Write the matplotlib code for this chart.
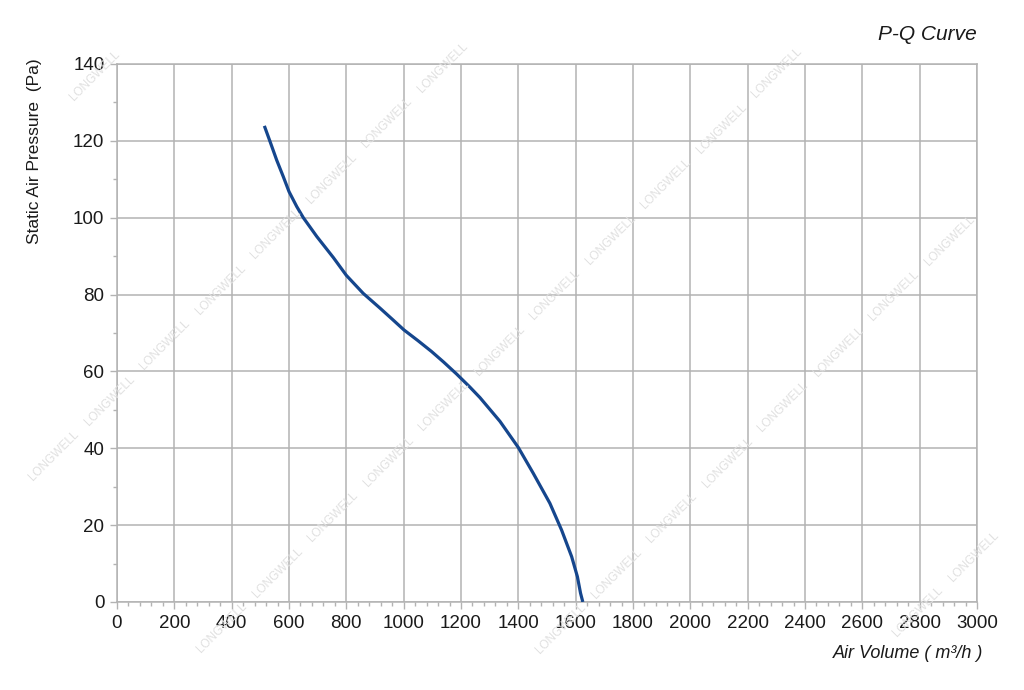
import matplotlib
matplotlib.use('Agg')
import matplotlib.pyplot as plt
from matplotlib.ticker import MultipleLocator

# P-Q curve
air_volume = [514, 534, 557, 580, 600, 627, 650, 697, 755, 800, 859, 917, 960, 1001,
              1050, 1097, 1140, 1185, 1230, 1266, 1336, 1400, 1452, 1510, 1551,
              1586, 1606, 1617, 1625]
pressure = [123.9, 119.8, 115.0, 110.7, 106.8, 102.9, 100.0, 95.1, 89.6, 85.0, 80.3,
            76.5, 73.6, 70.8, 68.0, 65.2, 62.4, 59.3, 56.0, 53.2, 47.0, 40.2, 33.5,
            25.7, 18.7, 11.8, 6.6, 2.3, 0.0]

x_ticks = list(range(0, 3001, 200))
y_ticks = list(range(0, 141, 20))

plt.rcParams['font.family'] = ['Liberation Sans', 'DejaVu Sans']

fig = plt.figure(figsize=(10.24, 6.9), dpi=100)
ax = fig.add_axes([117/1024, 1 - 602/690, 860/1024, 538/690])

grid_col = '#b3b3b3'
ax.set_xlim(0, 3000)
ax.set_ylim(0, 140)
ax.set_xticks(x_ticks)
ax.set_yticks(y_ticks)
ax.xaxis.set_minor_locator(MultipleLocator(40))
ax.yaxis.set_minor_locator(MultipleLocator(10))
ax.grid(True, which='major', color=grid_col, linewidth=1.1)
ax.set_axisbelow(True)
for s in ax.spines.values():
    s.set_color(grid_col)
    s.set_linewidth(1.1)
ax.tick_params(which='major', length=5, width=1, color=grid_col,
               labelsize=13.5, labelcolor='#1a1a1a', pad=4)
ax.tick_params(which='minor', length=3, width=1, color=grid_col)

ax.plot(air_volume, pressure, color='#15468d', linewidth=2.3, zorder=3,
        solid_capstyle='butt', solid_joinstyle='round')

# faint watermark, kept clear of the figure edges
for c, phase in [(170, 39), (510, 54), (850, 0), (1190, 6), (1530, 30)]:
    k = 0
    while True:
        x = phase + k * 55.5
        y = c - x
        k += 1
        if x > 1000:
            break
        if x < 40 or y < 40 or y > 640:
            continue
        fig.text(x / 1024, 1 - y / 690, 'LONGWELL', rotation=45, fontsize=8.5,
                 color='#e0e0e0', ha='center', va='center', zorder=0)

fig.text(977/1024, 1 - 35/690, 'P-Q Curve', ha='right', va='center',
         fontsize=15, style='italic', color='#1a1a1a')
fig.text(983/1024, 1 - 653/690, 'Air Volume ( m³/h )', ha='right', va='center',
         fontsize=13, style='italic', color='#1a1a1a')
fig.text(35/1024, 1 - 58/690, 'Static Air Pressure  (Pa)', rotation=90,
         ha='center', va='top', fontsize=12.5, color='#1a1a1a')

fig.savefig('out.png', dpi=100)
